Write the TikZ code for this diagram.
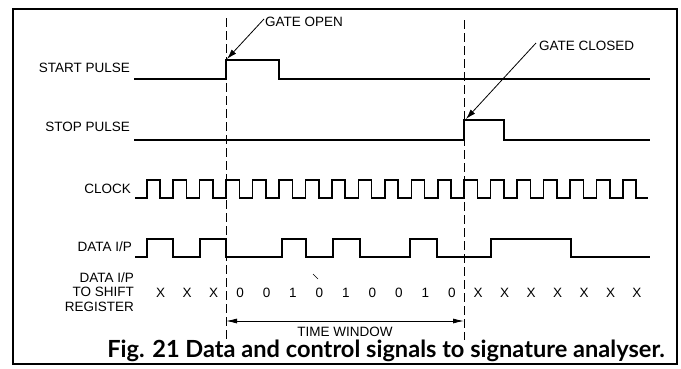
\documentclass[tikz,border=0pt]{standalone}
\usepackage{fontspec}
\setmainfont{Liberation Sans}
\newfontfamily\capfont{Lato}
\usetikzlibrary{arrows.meta}
\begin{document}
\begin{tikzpicture}[x=1pt,y=-1pt,
  lbl/.style={font=\fontsize{13.5}{14.5}\selectfont, inner sep=0pt},
  wave/.style={line width=1.8pt, line join=miter},
  gateline/.style={line width=0.9pt, dash pattern=on 9pt off 4pt},
  pointer/.style={line width=0.8pt, -{Latex[length=10pt,width=6pt]}},
  bit/.style={font=\fontsize{13.5}{14.5}\selectfont, inner sep=0pt}]
\useasboundingbox (0,0) rectangle (681,368);
\fill[white] (0,0) rectangle (681,368);
% frame
\draw[line width=1.1pt] (13,9) rectangle (677,364);

% gate lines
\coordinate (g1t) at (226,18);
\coordinate (g1b) at (226,340);
\coordinate (g2t) at (464,20);
\coordinate (g2b) at (464,340);
\draw[gateline] (g1t) -- (g1b);
\draw[gateline] (g2t) -- (g2b);

% signal labels
\node[lbl, anchor=east] (lstart) at (130,68) {START PULSE};
\node[lbl, anchor=east] (lstop) at (130,127) {STOP PULSE};
\node[lbl, anchor=east] (lclock) at (131,189) {CLOCK};
\node[lbl, anchor=east] (ldata) at (132,247) {DATA I/P};
\node[lbl, anchor=east, align=right, font=\fontsize{13.5}{14.5}\selectfont] (lshift) at (134,292) {DATA I/P\\TO SHIFT\\REGISTER};

% start pulse
\draw[wave] (134,79) -- (226,79) -- (226,60) -- (279,60) -- (279,79) -- (650,79);
% stop pulse
\draw[wave] (134,140) -- (464,140) -- (464,120) -- (504,120) -- (504,140) -- (650,140);
% clock
\draw[wave, line width=1.6pt] (135,198)
  \foreach \k in {0,...,18} { -- ({146.7+26.46*\k},198) -- ++(0,-18) -- ++(13.3,0) -- ++(0,18) }
  -- (648,198);
% data
\draw[wave] (135,257) -- (147,257) -- (147,239) -- (173,239) -- (173,257)
  -- (200,257) -- (200,239) -- (226,239) -- (226,257)
  -- (282,257) -- (282,239) -- (306,239) -- (306,257)
  -- (333,257) -- (333,239) -- (360,239) -- (360,257)
  -- (410,257) -- (410,239) -- (437,239) -- (437,257)
  -- (491,257) -- (491,239) -- (571,239) -- (571,257) -- (650,257);

% bits
\foreach \b [count=\i from 0] in {X,X,X,0,0,1,0,1,0,0,1,0,X,X,X,X,X,X,X}
  \node[bit] (b\i) at ({160.7+26.46*\i},293) {\b};
\draw[line width=0.6pt] (313,274) -- (318,279);

% gate annotations
\node[lbl, anchor=west] (gopen) at (265,22) {GATE OPEN};
\node[lbl, anchor=west] (gclosed) at (539,46) {GATE CLOSED};
\coordinate (goTip) at (227,59);
\coordinate (gcTip) at (466,119);
\draw[pointer] ([xshift=-1pt,yshift=3pt]gopen.west) -- (goTip);
\draw[pointer] ([xshift=-3pt,yshift=3pt]gclosed.west) -- (gcTip);

% time window
\coordinate (tw1) at (226,321);
\coordinate (tw2) at (464,321);
\draw[line width=0.8pt, {Latex[length=11pt,width=5pt]}-{Latex[length=11pt,width=5pt]}] (tw1) -- (tw2);
\node[lbl] (tw) at (345,331.5) {TIME WINDOW};

% caption
\node[inner sep=0pt, anchor=base] (cap) at (386,357) {\capfont\bfseries\fontsize{23.6}{26}\selectfont Fig. 21 Data and control signals to signature analyser.};
\end{tikzpicture}
\end{document}
